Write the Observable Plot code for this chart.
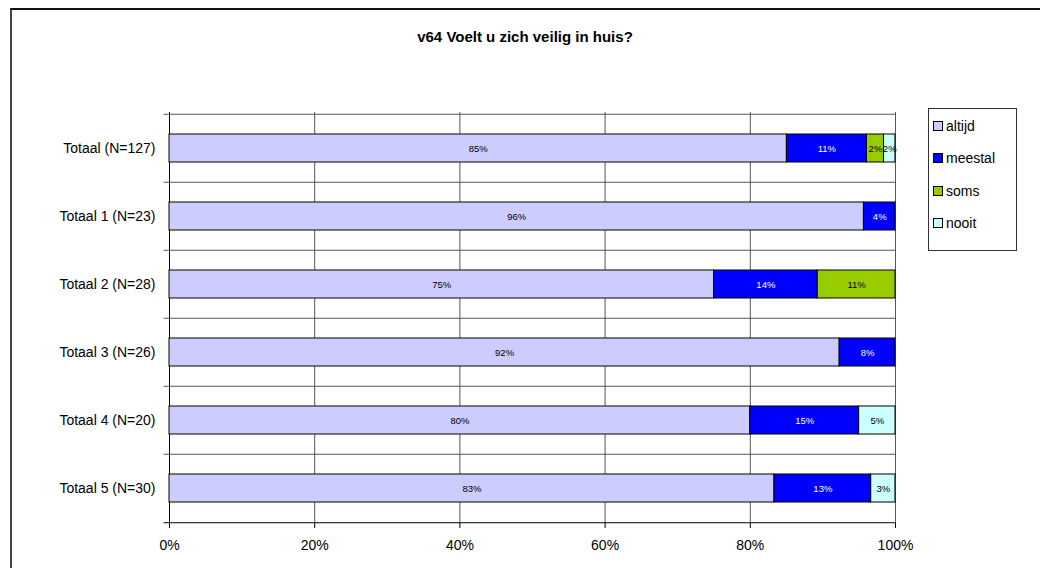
<!DOCTYPE html>
<html>
<head>
<meta charset="utf-8">
<script src="https://cdn.jsdelivr.net/npm/d3@7"></script>
<script src="https://cdn.jsdelivr.net/npm/@observablehq/plot@0.6"></script>
<style>
  html, body { margin: 0; padding: 0; background: #fff; overflow: hidden; }
  #wrap { position: relative; width: 1040px; height: 568px; font-family: Arial, "Liberation Sans", sans-serif; }
  #frame { position: absolute; left: 10px; top: 8px; width: 1100px; height: 600px; border-left: 2px solid #444; border-top: 2px solid #111; box-sizing: border-box; }
  #title { position: absolute; left: 10px; width: 1030px; top: 28px; text-align: center; font-weight: bold; font-size: 15px; color: #000; }
  #legend { position: absolute; left: 928px; top: 108px; width: 89px; height: 143px; border: 1px solid #333; box-sizing: border-box; background: #fff; }
  .li { position: absolute; left: 4px; font-size: 14px; color: #000; display: flex; align-items: center; height: 16px; }
  .sw { width: 8px; height: 8px; border: 1px solid #000; margin-right: 3px; box-sizing: content-box; }
  #chart { position: absolute; left: 0; top: 0; }
</style>
</head>
<body>
<div id="wrap">
  <div id="frame"></div>
  <div id="title">v64 Voelt u zich veilig in huis?</div>
  <div id="chart"></div>
  <div id="legend"></div>
</div>
<script>
const categories = ["Totaal (N=127)", "Totaal 1 (N=23)", "Totaal 2 (N=28)", "Totaal 3 (N=26)", "Totaal 4 (N=20)", "Totaal 5 (N=30)"];
const responses = ["altijd", "meestal", "soms", "nooit"];
const colors = ["#CCCCFF", "#0000FF", "#99CC00", "#CCFFFF"];
const altijd  = [85.04, 95.65, 75.00, 92.31, 80.00, 83.33];
const meestal = [11.02,  4.35, 14.29,  7.69, 15.00, 13.33];
const soms    = [ 2.36,  0.00, 10.71,  0.00,  0.00,  0.00];
const nooit   = [ 1.57,  0.00,  0.00,  0.00,  5.00,  3.33];
const xTicks = [0, 20, 40, 60, 80, 100];

const series = [altijd, meestal, soms, nooit];
const data = [];
categories.forEach((c, i) => {
  responses.forEach((r, j) => {
    if (series[j][i] > 0) data.push({cat: c, resp: r, value: series[j][i]});
  });
});

const step = 68.5;
const stackOpts = {x: "value", y: "cat", z: "resp", order: responses};
const label = d => Math.round(d.value) + "%";

const chart = Plot.plot({
  width: 1040,
  height: 568,
  marginLeft: 169,
  marginRight: 145,
  marginTop: 112,
  marginBottom: 45,
  style: {background: "transparent", fontFamily: "Arial, 'Liberation Sans', sans-serif", fontSize: "14px", color: "#000"},
  x: {domain: [0, 100], ticks: xTicks, tickFormat: d => d + "%", tickSize: 5, tickPadding: 12, label: null},
  y: {domain: categories, paddingInner: 0.59, paddingOuter: 0.295, label: null, tickSize: 0, tickPadding: 14},
  color: {domain: responses, range: colors},
  marks: [
    Plot.ruleX(xTicks.filter(d => d > 0), {stroke: "#555", strokeWidth: 1, strokeOpacity: 1}),
    Plot.ruleY(categories, {y: d => d, dy: -step / 2, x1: -0.75, x2: 100, stroke: "#555", strokeOpacity: 1}),
    Plot.ruleY(categories.slice(-1), {y: d => d, dy: step / 2, x1: -0.75, x2: 100, stroke: "#000", strokeOpacity: 1}),
    Plot.ruleX([0], {stroke: "#000", strokeWidth: 1}),
    Plot.barX(data, Plot.stackX({...stackOpts, fill: "resp", stroke: "#000", strokeWidth: 1})),
    Plot.text(data, Plot.stackX({...stackOpts, text: d => d.resp === "meestal" ? label(d) : "", fill: "#fff", fontSize: 9.5})),
    Plot.text(data, Plot.stackX({...stackOpts, text: d => d.resp !== "meestal" ? label(d) : "", fill: "#000", fontSize: 9.5}))
  ]
});
document.getElementById("chart").appendChild(chart);

const legend = document.getElementById("legend");
const rowTops = [9, 41, 74, 106];
responses.forEach((r, i) => {
  const el = document.createElement("div");
  el.className = "li";
  el.style.top = rowTops[i] + "px";
  el.innerHTML = `<span class="sw" style="background:${colors[i]}"></span><span>${r}</span>`;
  legend.appendChild(el);
});
</script>
</body>
</html>
